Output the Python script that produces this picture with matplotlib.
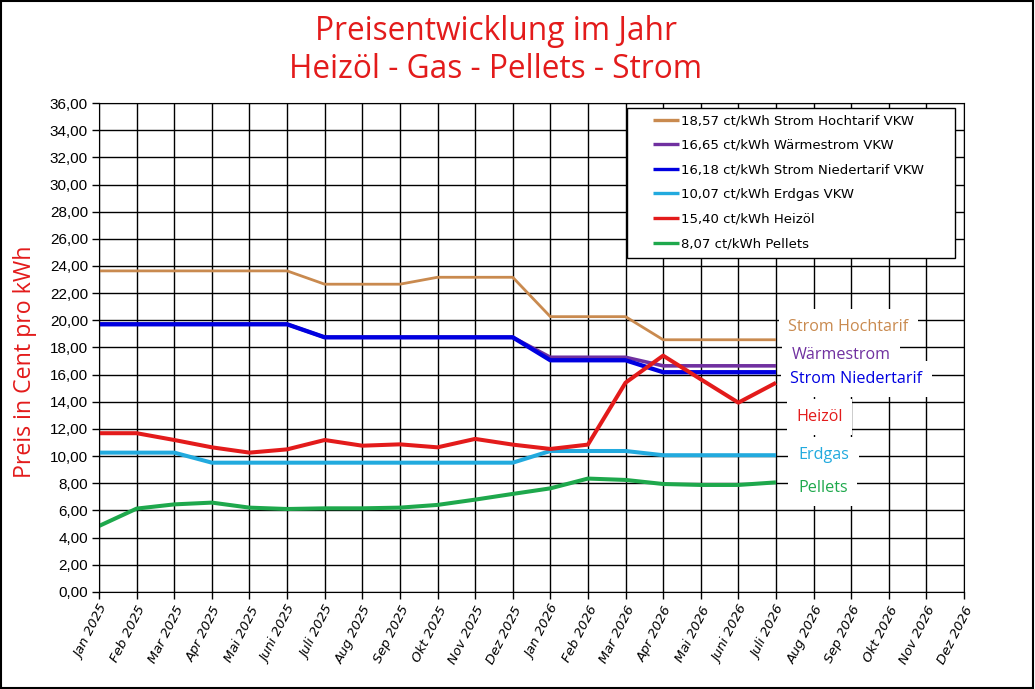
import matplotlib.pyplot as plt
from matplotlib.patches import Rectangle
from matplotlib.ticker import FuncFormatter, MultipleLocator

months = ["Jan 2025", "Feb 2025", "Mar 2025", "Apr 2025", "Mai 2025", "Juni 2025",
          "Juli 2025", "Aug 2025", "Sep 2025", "Okt 2025", "Nov 2025", "Dez 2025",
          "Jan 2026", "Feb 2026", "Mar 2026", "Apr 2026", "Mai 2026", "Juni 2026",
          "Juli 2026", "Aug 2026", "Sep 2026", "Okt 2026", "Nov 2026", "Dez 2026"]

# values Jan 2025 .. Juli 2026
strom_hoch = [23.64, 23.64, 23.64, 23.64, 23.64, 23.64, 22.66, 22.66, 22.66, 23.17,
              23.17, 23.17, 20.27, 20.27, 20.27, 18.57, 18.57, 18.57, 18.57]
waermestrom = [19.71, 19.71, 19.71, 19.71, 19.71, 19.71, 18.75, 18.75, 18.75, 18.75,
               18.75, 18.75, 17.28, 17.28, 17.28, 16.65, 16.65, 16.65, 16.65]
strom_nieder = [19.71, 19.71, 19.71, 19.71, 19.71, 19.71, 18.75, 18.75, 18.75, 18.75,
                18.75, 18.75, 17.06, 17.06, 17.06, 16.18, 16.18, 16.18, 16.18]
erdgas = [10.26, 10.26, 10.26, 9.52, 9.52, 9.52, 9.52, 9.52, 9.52, 9.52,
          9.52, 9.52, 10.38, 10.38, 10.38, 10.07, 10.07, 10.07, 10.07]
heizoel = [11.69, 11.69, 11.19, 10.65, 10.26, 10.50, 11.19, 10.77, 10.87, 10.65,
           11.27, 10.85, 10.53, 10.85, 15.41, 17.40, 15.66, 13.94, 15.40]
pellets = [4.86, 6.14, 6.45, 6.58, 6.21, 6.11, 6.16, 6.16, 6.21, 6.41,
           6.80, 7.22, 7.63, 8.35, 8.25, 7.95, 7.88, 7.88, 8.07]

legend_labels = ["18,57 ct/kWh Strom Hochtarif VKW", "16,65 ct/kWh Wärmestrom VKW",
                 "16,18 ct/kWh Strom Niedertarif VKW", "10,07 ct/kWh Erdgas VKW",
                 "15,40 ct/kWh Heizöl", "8,07 ct/kWh Pellets"]
# labels at the right end, same order as the series
end_labels = ["Strom Hochtarif", "Wärmestrom", "Strom Niedertarif", "Erdgas", "Heizöl", "Pellets"]
end_label_x = [18.33, 18.41, 18.38, 18.59, 18.54, 18.59]
end_label_y = [19.5, 17.45, 15.68, 10.09, 12.89, 7.66]

colors = ["#c98a4f", "#7030a0", "#0000e0", "#22aade", "#e31b1b", "#1ea84c"]
widths = [2.0, 2.6, 3.1, 2.9, 2.9, 2.9]
series = [strom_hoch, waermestrom, strom_nieder, erdgas, heizoel, pellets]

fig = plt.figure(figsize=(10.35, 6.89), dpi=100)
ax = fig.add_axes([0.0957, 0.1408, 0.8357, 0.7097])

x = list(range(len(strom_hoch)))
for vals, c, lw, lab in zip(series, colors, widths, legend_labels):
    ax.plot(x, vals, color=c, lw=lw, label=lab, solid_capstyle="butt")

ax.set_xlim(0, len(months) - 1)
ax.set_ylim(0, 36)
ax.yaxis.set_major_locator(MultipleLocator(2))
ax.yaxis.set_major_formatter(FuncFormatter(lambda v, p: f"{v:.2f}".replace(".", ",")))
ax.set_xticks(range(len(months)))
ax.set_xticklabels(months, rotation=63, ha="right", rotation_mode="anchor",
                   fontsize=9.5, style="italic", family="DejaVu Sans")
for t in ax.get_yticklabels():
    t.set_family("Liberation Sans")
    t.set_fontsize(11)
ax.tick_params(direction="out", length=5, color="black", width=1)
ax.tick_params(axis="y", pad=3)
ax.grid(True, color="black", lw=1)
ax.set_axisbelow(True)
for s in ax.spines.values():
    s.set_color("black")

ax.set_ylabel("Preis in Cent pro kWh", color="#e31b1b", fontsize=16.7, family="Open Sans",
              va="center")
ax.yaxis.set_label_coords(-0.086, 0.47)

# legend box drawn as its own frame, entries from the legend
ax.add_patch(Rectangle((0.6104, 0.683), 0.3792, 0.3068, transform=ax.transAxes,
                       facecolor="white", edgecolor="black", lw=1, zorder=4))
leg = ax.legend(loc="upper left", bbox_to_anchor=(0.640, 0.977), frameon=False,
                prop={"family": "DejaVu Sans", "size": 9.5}, handlelength=2.0,
                handletextpad=0.15, labelspacing=0.88, borderpad=0, borderaxespad=0)
leg.set_zorder(5)
for h in leg.get_lines():
    h.set_linewidth(2.4)

for lab, xv, yv, c in zip(end_labels, end_label_x, end_label_y, colors):
    ax.text(xv, yv, lab, color=c, fontsize=11.6, family="Open Sans", va="center",
            bbox=dict(boxstyle="square,pad=0.6", facecolor="white", edgecolor="none"))

fig.text(0.479, 0.942, "Preisentwicklung im Jahr", color="#e31b1b", fontsize=22.8,
         family="Open Sans", ha="center", va="baseline")
fig.text(0.479, 0.887, "Heizöl - Gas - Pellets - Strom", color="#e31b1b", fontsize=22.8,
         family="Open Sans", ha="center", va="baseline")

fig.patches.append(Rectangle((0.001, 0.001), 0.997, 0.997, transform=fig.transFigure,
                             fill=False, edgecolor="black", lw=1.5))

fig.savefig("out.png", dpi=100)
